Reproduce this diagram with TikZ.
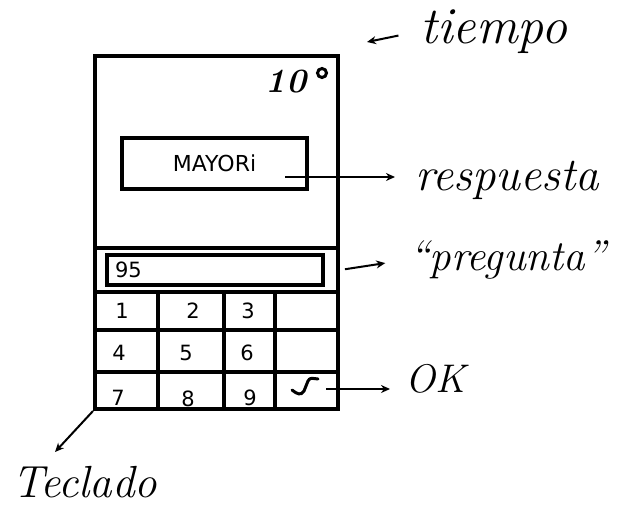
\documentclass[tikz,border=0pt]{standalone}
\usepackage{fontspec}
\newfontfamily\uifont{DejaVu Sans}
\usetikzlibrary{arrows.meta}

\tikzset{
  frame/.style={draw, line width=4pt, inner sep=0pt},
  uitext/.style={font=\uifont\fontsize{21}{21}\selectfont},
  hand/.style={font=\itshape\fontsize{#1}{#1}\selectfont, inner sep=0pt, anchor=base west},
  pointer/.style={line width=2pt, -{Stealth[length=9pt, width=8pt]}},
  pointer open/.style={line width=2pt, -{Stealth[open, length=9pt, width=8pt]}},
}

\begin{document}
\begin{tikzpicture}[x=1pt, y=-1pt]
  \useasboundingbox (0,0) rectangle (618,506);
  % keys first, the frame lines cut the last row
  \foreach \d/\px/\py in {1/122/311, 2/193/311, 3/248/311,
                          4/119/353, 5/186/353, 6/247/353,
                          7/118/398, 8/188/399, 9/250/398}
    \node[uitext] (key\d) at (\px,\py) {\d};
  % phone
  \node[frame, anchor=north west, minimum width=243pt, minimum height=353pt] (phone) at (93,54) {};
  \node[frame, minimum width=185pt, minimum height=51pt, uitext, font=\uifont\fontsize{22}{22}\selectfont] (answer) at (214.5,163.5) {MAYORi};
  \node[frame, text width=200pt, inner xsep=8pt, minimum height=30pt, align=left, uitext] (question) at (215,270) {95};
  \draw[line width=4pt] (phone.west |- 0,248) -- (phone.east |- 0,248);
  \foreach \ry in {292,330,372}
    \draw[line width=4pt] (phone.west |- 0,\ry) -- (phone.east |- 0,\ry);
  \foreach \cx in {158,224,275}
    \draw[line width=4pt] (\cx,292) -- (\cx,407);
  % ok key
  \coordinate (check) at (318,379);
  \draw[line width=3pt, line cap=round] (292,390) .. controls (297,394) and (301,396) .. (304,391)
    -- (308,381) .. controls (310,378) .. (check);
  % timer
  \node[hand=34, anchor=base] (clock) at (286,92) {\bfseries 10};
  \node[draw, circle, line width=3pt, minimum size=9pt, inner sep=0pt] (dot) at (322,73) {};

  % labels
  \node[hand=52] (tiempo) at (420,43) {tiempo};
  \node[hand=47] (respuesta) at (415,190) {respuesta};
  \node[hand=43] (pregunta) at (409,270) {``pregunta''};
  \node[hand=40] (ok) at (405,392) {OK};
  \node[hand=45] (teclado) at (12,497) {Teclado};

  \coordinate (clock-mark) at (367,42);
  \coordinate (answer-tail) at (285,177);
  \coordinate (ok-tail) at (326,389);
  \coordinate (keys-tip) at (55,452);
  \draw[pointer, shorten <=22pt] (tiempo.west) -- (clock-mark);
  \draw[pointer open, shorten >=20pt] (answer-tail) -- (answer-tail -| respuesta.west);
  \draw[pointer open, shorten <=5pt, shorten >=24pt] (phone.east |- question) -- (pregunta.west);
  \draw[pointer open, shorten >=15pt] (ok-tail) -- (ok-tail -| ok.west);
  \draw[pointer] (phone.south west) -- (keys-tip);
\end{tikzpicture}
\end{document}
